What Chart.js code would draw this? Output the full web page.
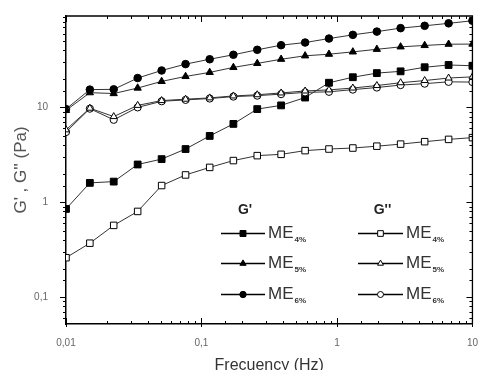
<!DOCTYPE html>
<html>
<head>
<meta charset="utf-8">
<script src="https://cdn.jsdelivr.net/npm/chart.js@4/dist/chart.umd.min.js"></script>
<style>
  html, body { margin: 0; padding: 0; background: #fff; }
  #wrap { position: relative; width: 483px; height: 370px; }
</style>
</head>
<body>
<div id="wrap"><canvas id="c"></canvas></div>
<script>
// frequencies (Hz)
var freq = [0.01, 0.015, 0.0225, 0.0338, 0.0508, 0.0763, 0.115, 0.172, 0.258,
            0.387, 0.582, 0.873, 1.31, 1.97, 2.95, 4.44, 6.67, 10];

// G' (storage modulus, Pa)
var gp4 = [0.85, 1.6, 1.65, 2.5, 2.85, 3.64, 5.0, 6.7, 9.6, 10.5, 12.7, 18.2, 20.8, 23, 24, 26.5, 28, 27.5];
var gp5 = [9.3, 14.3, 14.0, 16.0, 18.8, 21.2, 23.4, 26.4, 29.1, 32.2, 35, 36.4, 38.5, 41, 43.5, 45, 46.4, 46.5];
var gp6 = [9.6, 15.4, 15.5, 20.4, 24.5, 28.6, 32.2, 35.9, 40.5, 45.3, 48.3, 53.2, 58.2, 63, 68.5, 72.5, 77, 82];

// G'' (loss modulus, Pa)
var gpp4 = [0.26, 0.37, 0.57, 0.80, 1.5, 1.94, 2.33, 2.75, 3.1, 3.2, 3.5, 3.64, 3.73, 3.9, 4.1, 4.35, 4.6, 4.8];
var gpp5 = [5.8, 9.8, 8.0, 10.5, 11.8, 12.2, 12.6, 13.2, 13.6, 14.2, 14.9, 15.3, 16.0, 17.0, 18.2, 19.2, 20.4, 21.0];
var gpp6 = [5.5, 9.7, 7.4, 10.0, 11.6, 12.0, 12.4, 13.0, 13.3, 13.8, 14.4, 14.6, 15.4, 16.2, 17.2, 17.8, 18.6, 18.5];

var concLabels = ['4%', '5%', '6%'];
var xTickVals = [0.01, 0.1, 1, 10];
var xTickLabels = ['0,01', '0,1', '1', '10'];
var yTickVals = [0.1, 1, 10];
var yTickLabels = ['0,1', '1', '10'];

function pts(arr) {
  return freq.map(function (f, i) { return { x: f, y: arr[i] }; });
}

function ds(arr, style, filled, r) {
  return {
    data: pts(arr),
    borderColor: '#333',
    borderWidth: 1,
    pointStyle: style,
    pointRadius: r,
    pointBorderWidth: 1,
    pointBorderColor: '#000',
    pointBackgroundColor: filled ? '#000' : '#fff',
    tension: 0
  };
}

var datasets = [
  ds(gpp4, 'rect', false, 4.6),
  ds(gpp5, 'triangle', false, 4),
  ds(gpp6, 'circle', false, 3.6),
  ds(gp4, 'rect', true, 4.8),
  ds(gp5, 'triangle', true, 4.2),
  ds(gp6, 'circle', true, 3.8)
];

function matchVal(v, vals) {
  for (var i = 0; i < vals.length; i++) {
    if (Math.abs(Math.log10(v) - Math.log10(vals[i])) < 1e-6) return i;
  }
  return -1;
}

function isMajor(v) {
  var l = Math.log10(v);
  return Math.abs(l - Math.round(l)) < 1e-6;
}

// tick marks on the four sides + top/right frame
var frame = {
  id: 'frame',
  afterDraw: function (chart) {
    var ctx = chart.ctx, a = chart.chartArea;
    var xs = chart.scales.x, ys = chart.scales.y;
    ctx.save();
    ctx.strokeStyle = '#000';
    ctx.lineWidth = 1.3;
    ctx.beginPath();
    ctx.moveTo(a.left, a.top); ctx.lineTo(a.right, a.top); ctx.lineTo(a.right, a.bottom);
    ctx.stroke();
    ctx.lineWidth = 1;
    ctx.beginPath();
    xs.ticks.forEach(function (t) {
      var px = Math.round(xs.getPixelForValue(t.value)) + 0.5;
      if (px < a.left - 1 || px > a.right + 1) return;
      var maj = isMajor(t.value);
      var len = maj ? 6 : 3;
      ctx.moveTo(px, a.bottom + (maj ? 3 : 0)); ctx.lineTo(px, a.bottom - len);
      ctx.moveTo(px, a.top); ctx.lineTo(px, a.top + len);
    });
    ys.ticks.forEach(function (t) {
      var py = Math.round(ys.getPixelForValue(t.value)) + 0.5;
      if (py < a.top + 1 || py > a.bottom - 1) return;
      var maj = isMajor(t.value);
      var len = maj ? 6 : 3;
      ctx.moveTo(a.left, py); ctx.lineTo(a.left - len, py);
      ctx.moveTo(a.right, py); ctx.lineTo(a.right - len, py);
    });
    ctx.stroke();
    ctx.restore();
  }
};

// two-column legend inside the plot
var legendBox = {
  id: 'legendBox',
  afterDraw: function (chart) {
    var ctx = chart.ctx;
    var cols = [
      { head: "G'", x1: 221, x2: 265, idx: [3, 4, 5] },
      { head: "G''", x1: 358, x2: 403, idx: [0, 1, 2] }
    ];
    var rows = [233, 263, 294];
    ctx.save();
    cols.forEach(function (c) {
      ctx.fillStyle = '#222';
      ctx.font = 'bold 14px "Liberation Sans", Arial, sans-serif';
      ctx.textAlign = 'center';
      ctx.textBaseline = 'middle';
      ctx.fillText(c.head, (c.x1 + c.x2) / 2 + 2, 210);
      c.idx.forEach(function (di, k) {
        var d = chart.data.datasets[di];
        var y = rows[k];
        ctx.strokeStyle = '#000';
        ctx.lineWidth = 1.3;
        ctx.beginPath();
        ctx.moveTo(c.x1, y + 0.5); ctx.lineTo(c.x2, y + 0.5);
        ctx.stroke();
        ctx.fillStyle = d.pointBackgroundColor;
        ctx.strokeStyle = '#000';
        ctx.lineWidth = 1;
        Chart.helpers.drawPoint(ctx, { pointStyle: d.pointStyle, radius: d.pointRadius - 0.6, rotation: 0, borderWidth: 1 },
          (c.x1 + c.x2) / 2, y + 0.5);
        ctx.fillStyle = '#333';
        ctx.textAlign = 'left';
        ctx.font = '17px "Liberation Sans", Arial, sans-serif';
        ctx.fillText('ME', c.x2 + 3, y);
        var w = ctx.measureText('ME').width;
        ctx.font = 'bold 8px "Liberation Sans", Arial, sans-serif';
        ctx.fillText(concLabels[k], c.x2 + 3 + w + 1, y + 7);
      });
    });
    ctx.restore();
  }
};

var tickFont = { family: '"Liberation Sans", Arial, sans-serif', size: 10 };

new Chart(document.getElementById('c'), {
  type: 'line',
  data: { datasets: datasets },
  plugins: [frame, legendBox],
  options: {
    responsive: true,
    maintainAspectRatio: false,
    animation: false,
    layout: { padding: { top: 15, right: 8, left: 0, bottom: 0 } },
    plugins: { legend: { display: false }, tooltip: { enabled: false } },
    scales: {
      x: {
        type: 'logarithmic',
        min: 0.01,
        max: 10,
        grid: { display: false },
        border: { display: true, color: '#000', width: 1.5 },
        afterFit: function (s) { s.height = 46; },
        ticks: {
          autoSkip: false,
          maxRotation: 0,
          color: '#666',
          font: tickFont,
          padding: 5,
          callback: function (v) { var i = matchVal(v, xTickVals); return i >= 0 ? xTickLabels[i] : ''; }
        },
        title: {
          display: true,
          text: 'Frecuency (Hz)',
          color: '#333',
          font: { family: '"Liberation Sans", Arial, sans-serif', size: 16 },
          padding: { top: 0, bottom: -5 }
        }
      },
      y: {
        type: 'logarithmic',
        min: 0.052,
        max: 92,
        grid: { display: false },
        border: { display: true, color: '#000', width: 1.5 },
        afterFit: function (s) { s.width = 66; },
        ticks: {
          autoSkip: false,
          color: '#666',
          font: tickFont,
          padding: 10,
          callback: function (v) { var i = matchVal(v, yTickVals); return i >= 0 ? yTickLabels[i] : ''; }
        },
        title: {
          display: true,
          text: "G' , G'' (Pa)",
          color: '#555',
          font: { family: '"Liberation Sans", Arial, sans-serif', size: 17 },
          padding: { top: 11, bottom: 0 }
        }
      }
    }
  }
});
</script>
</body>
</html>
